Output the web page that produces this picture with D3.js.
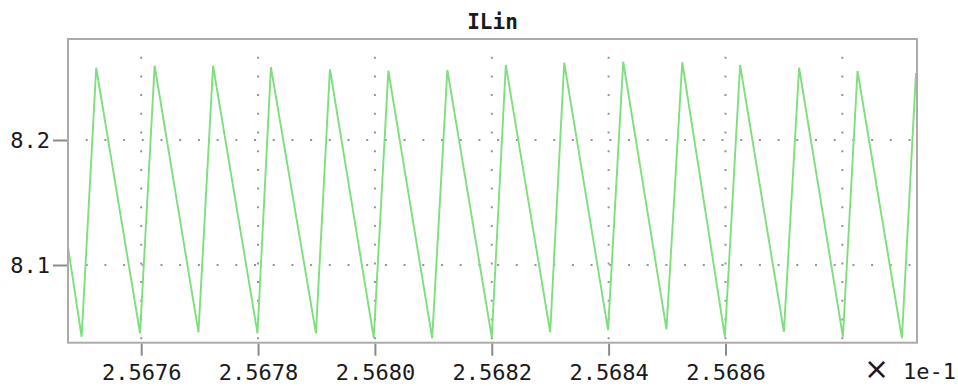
<!DOCTYPE html>
<html>
<head>
<meta charset="utf-8">
<script src="https://cdn.jsdelivr.net/npm/d3@7"></script>
<style>
  html, body { margin: 0; padding: 0; background: #ffffff; }
  svg { display: block; }
</style>
</head>
<body>
<svg id="chart" width="958" height="386"></svg>
<script>
// ---- data (x in axis units, shown ×1e-1) ----
const title = "ILin";
const xValues = [
  2.567475, 2.567498, 2.567523, 2.567598, 2.567623, 2.567698, 2.567723,
  2.567799, 2.567822, 2.567899, 2.567923, 2.567998, 2.568023, 2.568098,
  2.568124, 2.568200, 2.568224, 2.568300, 2.568324, 2.568399, 2.568425,
  2.568499, 2.568526, 2.568599, 2.568625, 2.568700, 2.568726, 2.568801,
  2.568826, 2.568902, 2.568926
];
const yValues = [
  8.1136, 8.0426, 8.2578, 8.0454, 8.2594, 8.0462, 8.2594,
  8.0454, 8.2582, 8.0454, 8.2566, 8.0418, 8.2554, 8.0414,
  8.2560, 8.0422, 8.2600, 8.0462, 8.2618, 8.0480, 8.2626,
  8.0486, 8.2622, 8.0426, 8.2600, 8.0466, 8.2578, 8.0426,
  8.2552, 8.0414, 8.2536
];
const xTickValues = [2.5676, 2.5678, 2.5680, 2.5682, 2.5684, 2.5686];
const xGridValues = [2.5676, 2.5678, 2.5680, 2.5682, 2.5684, 2.5686, 2.5688];
const yTickValues = [8.1, 8.2];
const xDomain = [2.5674747, 2.5689278];
const yDomain = [8.03784, 8.2808];
const exponentLabel = "1e-1";

// ---- layout ----
(function () {
const svg = d3.select("#chart");
const pL = 68, pT = 39, pR = 917, pB = 342.7;
const x = d3.scaleLinear().domain(xDomain).range([pL, pR]);
const y = d3.scaleLinear().domain(yDomain).range([pB, pT]);
const fontFam = "'DejaVu Sans Mono', monospace";

// grid (dotted)
const grid = svg.append("g").attr("stroke", "#959595").attr("stroke-width", 2)
  .attr("stroke-dasharray", "2 16.7");
grid.selectAll("line.v").data(xGridValues).enter().append("line")
  .attr("class", "v")
  .attr("x1", d => x(d)).attr("x2", d => x(d))
  .attr("y1", pT - 1).attr("y2", pB);
grid.selectAll("line.h").data(yTickValues).enter().append("line")
  .attr("class", "h")
  .attr("y1", d => y(d)).attr("y2", d => y(d))
  .attr("x1", pL - 1).attr("x2", pR);

// clip
svg.append("clipPath").attr("id", "clip").append("rect")
  .attr("x", pL).attr("y", pT).attr("width", pR - pL).attr("height", pB - pT);

// line
const data = xValues.map((v, i) => [v, yValues[i]]);
svg.append("path")
  .datum(data)
  .attr("clip-path", "url(#clip)")
  .attr("fill", "none")
  .attr("stroke", "#7ddf7d")
  .attr("stroke-width", 1.9)
  .attr("stroke-linejoin", "miter")
  .attr("d", d3.line().x(d => x(d[0])).y(d => y(d[1])));

// frame
svg.append("rect")
  .attr("x", pL).attr("y", pT).attr("width", pR - pL).attr("height", pB - pT)
  .attr("fill", "none").attr("stroke", "#ababab").attr("stroke-width", 2);

// x axis
const xAxis = svg.append("g")
  .attr("transform", `translate(0,${pB + 1})`)
  .call(d3.axisBottom(x).tickValues(xTickValues).tickSize(12).tickSizeOuter(0)
    .tickFormat(d3.format(".4f")));
xAxis.select(".domain").remove();
xAxis.selectAll(".tick line").attr("stroke", "#8a8a8a").attr("stroke-width", 2);
xAxis.selectAll(".tick text")
  .attr("font-family", fontFam).attr("font-size", 22).attr("fill", "#1a1a1a")
  .attr("dy", null).attr("y", 36);

// y axis
const yAxis = svg.append("g")
  .attr("transform", `translate(${pL - 1},0)`)
  .call(d3.axisLeft(y).tickValues(yTickValues).tickSize(14).tickSizeOuter(0)
    .tickFormat(d3.format(".1f")));
yAxis.select(".domain").remove();
yAxis.selectAll(".tick line").attr("stroke", "#8a8a8a").attr("stroke-width", 2);
yAxis.selectAll(".tick text")
  .attr("font-family", fontFam).attr("font-size", 22).attr("fill", "#1a1a1a")
  .attr("x", -17).attr("dy", "0.36em");

// title
svg.append("text")
  .attr("x", (pL + pR) / 2).attr("y", 29)
  .attr("text-anchor", "middle")
  .attr("font-family", fontFam).attr("font-size", 21).attr("font-weight", "bold")
  .attr("fill", "#1a1a1a")
  .text(title);

// exponent label
const ex = svg.append("text")
  .attr("y", 379)
  .attr("font-family", fontFam).attr("font-size", 22).attr("fill", "#1a1a1a");
ex.append("tspan").attr("x", 864).attr("font-size", 30).attr("font-family", "'DejaVu Sans', sans-serif").text("× ");
ex.append("tspan").attr("x", 903).text(exponentLabel);
})();
</script>
</body>
</html>
